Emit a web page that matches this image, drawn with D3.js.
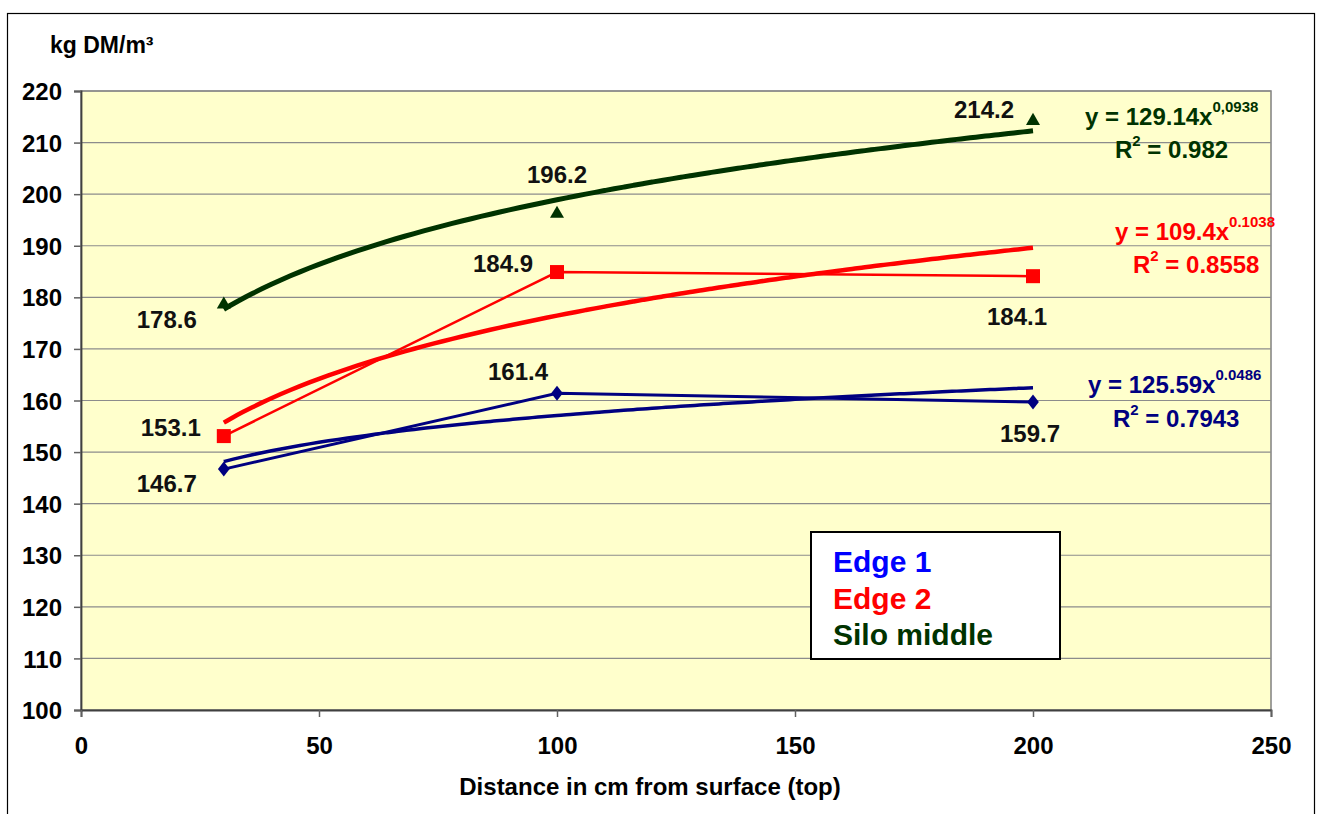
<!DOCTYPE html>
<html><head><meta charset="utf-8">
<script src="https://cdn.jsdelivr.net/npm/d3@7"></script>
<style>
html,body{margin:0;padding:0;background:#fff;}
svg text{font-family:"Liberation Sans",Arial,sans-serif;font-weight:bold;}
</style></head>
<body>
<svg id="chart" width="1322" height="814"></svg>
<script>
// ---- data ----
const distances = [30, 100, 200];
const edge1 = [146.7, 161.4, 159.7];
const edge2 = [153.1, 184.9, 184.1];
const siloMiddle = [178.6, 196.2, 214.2];
const seriesNames = ["Edge 1", "Edge 2", "Silo middle"];
// power trendline coefficients y = a * x^b (as printed on the chart)
const trendA = [125.59, 109.4, 129.14];
const trendB = [0.0486, 0.1038, 0.0938];
const trendAText = ["125.59", "109.4", "129.14"];
const trendBText = ["0.0486", "0.1038", "0,0938"];
const r2Text = ["0.7943", "0.8558", "0.982"];
const xTicks = [0, 50, 100, 150, 200, 250];
const yTicks = [100, 110, 120, 130, 140, 150, 160, 170, 180, 190, 200, 210, 220];

const svg = d3.select("#chart");
const L = 81, R = 1271, T = 91, B = 710;
const x = d3.scaleLinear().domain([0, 250]).range([L, R]);
const y = d3.scaleLinear().domain([100, 220]).range([B, T]);
const FF = '"Liberation Sans",Arial,sans-serif';

// outer frame
svg.append("rect").attr("x", 7.5).attr("y", 13.5).attr("width", 1307).attr("height", 820)
  .attr("fill", "none").attr("stroke", "#000").attr("stroke-width", 1.2);

// plot background
svg.append("rect").attr("x", L).attr("y", T).attr("width", R - L).attr("height", B - T)
  .attr("fill", "#FFFFCC").attr("stroke", "#808080").attr("stroke-width", 1.5);

// gridlines
svg.append("g").selectAll("line").data(yTicks.slice(1)).join("line")
  .attr("x1", L).attr("x2", R).attr("y1", d => y(d)).attr("y2", d => y(d))
  .attr("stroke", "#8c8c8c").attr("stroke-width", 1.2);

// axes
const yAxis = d3.axisLeft(y).tickValues(yTicks).tickSize(7).tickPadding(12).tickFormat(d3.format("d"));
const gy = svg.append("g").attr("transform", `translate(${L},0)`).call(yAxis);
const xAxis = d3.axisBottom(x).tickValues(xTicks).tickSize(7).tickPadding(20).tickFormat(d3.format("d"));
const gx = svg.append("g").attr("transform", `translate(0,${B})`).call(xAxis);
[gy, gx].forEach(g => {
  g.select(".domain").attr("stroke", "#404040").attr("stroke-width", 1.8);
  g.selectAll(".tick line").attr("stroke", "#606060").attr("stroke-width", 1.5);
  g.selectAll(".tick text").attr("font-size", 24).attr("fill", "#000")
   .style("font-family", FF).style("font-weight", "bold");
});
gy.selectAll(".tick text").attr("dy", "0.36em");

// axis titles
svg.append("text").attr("x", 50).attr("y", 53).attr("font-size", 23).text("kg DM/m³");
svg.append("text").attr("x", 650).attr("y", 795).attr("text-anchor", "middle").attr("font-size", 24)
  .text("Distance in cm from surface (top)");

const lineColors = ["#000080", "#FF0000", "#003300"];
const allData = [edge1, edge2, siloMiddle];
const line = d3.line().x(d => x(d[0])).y(d => y(d[1]));

// trendlines (power), drawn from the printed coefficients
const trendWidth = [3.5, 4.5, 5];
[0, 1, 2].forEach(i => {
  const xs = d3.range(30, 200.5, 2);
  const pts = xs.map(v => [v, trendA[i] * Math.pow(v, trendB[i])]);
  svg.append("path").attr("d", d3.line().x(d => x(d[0])).y(d => y(d[1])).curve(d3.curveMonotoneX)(pts))
    .attr("fill", "none").attr("stroke", lineColors[i]).attr("stroke-width", trendWidth[i]);
});

// data lines (edge 1 and edge 2 only)
const dataWidth = [3, 2.5];
[0, 1].forEach(i => {
  svg.append("path").attr("d", line(distances.map((d, j) => [d, allData[i][j]])))
    .attr("fill", "none").attr("stroke", i === 0 ? "#000080" : "#FF0000").attr("stroke-width", dataWidth[i]);
});

// markers
svg.append("g").selectAll("path").data(edge1).join("path")
  .attr("d", d3.symbol(d3.symbolDiamond, 90)())
  .attr("transform", (d, j) => `translate(${x(distances[j])},${y(d)}) scale(1.15,0.85)`)
  .attr("fill", "#000080");
svg.append("g").selectAll("rect").data(edge2).join("rect")
  .attr("x", (d, j) => x(distances[j]) - 7).attr("y", d => y(d) - 7)
  .attr("width", 14).attr("height", 14).attr("fill", "#FF0000");
svg.append("g").selectAll("path").data(siloMiddle).join("path")
  .attr("d", d3.symbol(d3.symbolTriangle, 85)())
  .attr("transform", (d, j) => `translate(${x(distances[j])},${y(d)})`)
  .attr("fill", "#003300");

// data labels
const labelDx = [
  [-57, -39, -3],   // edge1
  [-53, -54, -16],  // edge2
  [-57, 0, -49]     // silo
];
const labelDy = [
  [23, -13, 40],
  [0, 0, 49],
  [23, -31, -3]
];
allData.forEach((arr, i) => {
  svg.append("g").selectAll("text").data(arr).join("text")
    .attr("x", (d, j) => x(distances[j]) + labelDx[i][j])
    .attr("y", (d, j) => y(d) + labelDy[i][j])
    .attr("text-anchor", "middle").attr("font-size", 24).attr("fill", "#111")
    .text(d => d.toFixed(1));
});

// trendline equations
const eqPos = [[1088, 393, 1113, 427], [1115, 240, 1133, 273], [1085, 125, 1115, 158]];
[0, 1, 2].forEach(i => {
  const t = svg.append("text").attr("x", eqPos[i][0]).attr("y", eqPos[i][1])
    .attr("font-size", 24).attr("fill", lineColors[i]);
  t.append("tspan").text(`y = ${trendAText[i]}x`);
  t.append("tspan").attr("dy", -13).attr("font-size", 15).text(trendBText[i]);
  const r = svg.append("text").attr("x", eqPos[i][2]).attr("y", eqPos[i][3])
    .attr("font-size", 24).attr("fill", lineColors[i]);
  r.append("tspan").text("R");
  r.append("tspan").attr("dy", -12).attr("font-size", 15).text("2");
  r.append("tspan").attr("dy", 12).text(` = ${r2Text[i]}`);
});

// legend
const legColors = ["#0000FF", "#FF0000", "#003300"];
svg.append("rect").attr("x", 811).attr("y", 532).attr("width", 249).attr("height", 127)
  .attr("fill", "#fff").attr("stroke", "#000").attr("stroke-width", 2);
svg.append("g").selectAll("text").data(seriesNames).join("text")
  .attr("x", 833).attr("y", (d, i) => 572 + i * 36.5)
  .attr("font-size", 30).attr("fill", (d, i) => legColors[i]).text(d => d);
</script>
</body></html>
